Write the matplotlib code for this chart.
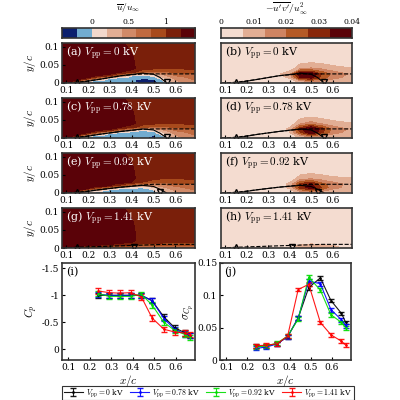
import numpy as np
import matplotlib
matplotlib.use("Agg")
import matplotlib.pyplot as plt
from matplotlib.colors import ListedColormap, BoundaryNorm

plt.rcParams['font.family'] = 'DejaVu Serif'
plt.rcParams['mathtext.fontset'] = 'cm'
plt.rcParams['font.size'] = 7

# ---------------- data ----------------
gx = [0.08, 0.15, 0.2, 0.3, 0.4, 0.45, 0.5, 0.55, 0.6, 0.69]
gy_u = [0, 0.004, 0.008, 0.012, 0.016, 0.02, 0.025, 0.03, 0.04, 0.07, 0.11]
gy_r = [0, 0.005, 0.015, 0.025, 0.04, 0.07, 0.11]

top_rows = [[1.3, 1.3, 1.3, 1.3, 1.25, 1.1, 1.05, 1.0, 1.0, 1.05],
            [1.3, 1.3, 1.3, 1.3, 1.22, 1.1, 1.1, 1.1, 1.1, 1.1],
            [1.3, 1.3, 1.3, 1.3, 1.15, 1.1, 1.1, 1.1, 1.1, 1.1]]

u_a = [[1.3, 0.5, -0.1, -0.1, -0.1, -0.3, -0.3, -0.05, 0.3, 0.5],
       [1.3, 1.0, -0.05, -0.1, -0.15, -0.3, -0.3, 0.0, 0.35, 0.55],
       [1.3, 1.3, 0.3, -0.1, -0.15, -0.3, -0.25, 0.05, 0.4, 0.6],
       [1.3, 1.3, 1.0, -0.05, -0.1, -0.2, -0.15, 0.15, 0.45, 0.65],
       [1.3, 1.3, 1.3, 0.3, -0.05, -0.1, -0.05, 0.25, 0.5, 0.7],
       [1.3, 1.3, 1.3, 1.0, 0.0, -0.05, 0.05, 0.35, 0.6, 0.75],
       [1.3, 1.3, 1.3, 1.25, 0.5, 0.2, 0.3, 0.5, 0.7, 0.8],
       [1.3, 1.3, 1.3, 1.3, 1.1, 0.8, 0.7, 0.75, 0.85, 0.9]] + top_rows
u_c = [[1.3, 0.5, -0.1, -0.1, -0.1, -0.15, -0.25, -0.05, 0.3, 0.5],
       [1.3, 1.0, -0.05, -0.1, -0.15, -0.15, -0.25, 0.0, 0.35, 0.55],
       [1.3, 1.3, 0.3, -0.1, -0.15, -0.15, -0.15, 0.05, 0.4, 0.6],
       [1.3, 1.3, 1.0, -0.05, -0.1, -0.1, -0.1, 0.15, 0.45, 0.65],
       [1.3, 1.3, 1.3, 0.3, -0.05, -0.05, -0.05, 0.25, 0.5, 0.7],
       [1.3, 1.3, 1.3, 1.0, 0.05, 0.0, 0.05, 0.35, 0.6, 0.75],
       [1.3, 1.3, 1.3, 1.25, 0.6, 0.3, 0.35, 0.5, 0.7, 0.8],
       [1.3, 1.3, 1.3, 1.3, 1.1, 0.85, 0.75, 0.75, 0.85, 0.9]] + top_rows
u_e = [[1.3, 0.6, 0.0, -0.05, -0.05, -0.1, -0.1, 0.1, 0.35, 0.5],
       [1.3, 1.1, 0.05, -0.05, -0.1, -0.1, -0.05, 0.15, 0.4, 0.55],
       [1.3, 1.3, 0.6, -0.05, -0.1, -0.1, 0.0, 0.2, 0.45, 0.6],
       [1.3, 1.3, 1.2, 0.1, -0.05, -0.05, 0.05, 0.3, 0.5, 0.65],
       [1.3, 1.3, 1.3, 0.7, 0.1, 0.05, 0.2, 0.4, 0.55, 0.7],
       [1.3, 1.3, 1.3, 1.2, 0.5, 0.3, 0.35, 0.5, 0.65, 0.75],
       [1.3, 1.3, 1.3, 1.3, 0.9, 0.7, 0.6, 0.65, 0.75, 0.8],
       [1.3, 1.3, 1.3, 1.3, 1.2, 1.0, 0.9, 0.85, 0.9, 0.9]] + top_rows
u_g = [[1.3, 0.9, 0.8, 0.6, 0.4, 0.4, 0.4, 0.45, 0.5, 0.55],
       [1.3, 1.2, 1.1, 0.9, 0.7, 0.65, 0.65, 0.65, 0.7, 0.7],
       [1.3, 1.3, 1.25, 1.15, 0.95, 0.9, 0.85, 0.85, 0.85, 0.85],
       [1.3, 1.3, 1.3, 1.25, 1.1, 1.0, 1.0, 0.95, 0.95, 0.95],
       [1.3, 1.3, 1.3, 1.3, 1.2, 1.1, 1.05, 1.05, 1.0, 1.0],
       [1.3, 1.3, 1.3, 1.3, 1.25, 1.1, 1.1, 1.1, 1.05, 1.05],
       [1.3, 1.3, 1.3, 1.3, 1.25, 1.1, 1.1, 1.1, 1.05, 1.05],
       [1.3, 1.3, 1.3, 1.3, 1.25, 1.1, 1.1, 1.1, 1.05, 1.05]] + top_rows

rs_b = [[0, 0, 0, 0, 0, 0.002, 0.004, 0.004, 0.004, 0.003],
        [0, 0, 0, 0, 0.002, 0.010, 0.016, 0.012, 0.009, 0.007],
        [0, 0, 0, 0, 0.008, 0.034, 0.036, 0.024, 0.016, 0.010],
        [0, 0, 0, 0, 0.012, 0.042, 0.040, 0.026, 0.018, 0.012],
        [0, 0, 0, 0, 0.002, 0.012, 0.014, 0.012, 0.009, 0.007],
        [0, 0, 0, 0, 0, 0, 0, 0, 0, 0],
        [0, 0, 0, 0, 0, 0, 0, 0, 0, 0]]
rs_d = [[0, 0, 0, 0, 0, 0.002, 0.004, 0.004, 0.004, 0.003],
        [0, 0, 0, 0, 0.002, 0.010, 0.018, 0.012, 0.009, 0.007],
        [0, 0, 0, 0, 0.006, 0.026, 0.040, 0.028, 0.016, 0.010],
        [0, 0, 0, 0, 0.008, 0.032, 0.044, 0.030, 0.018, 0.012],
        [0, 0, 0, 0, 0.002, 0.012, 0.016, 0.012, 0.009, 0.007],
        [0, 0, 0, 0, 0, 0, 0, 0, 0, 0],
        [0, 0, 0, 0, 0, 0, 0, 0, 0, 0]]
rs_f = [[0, 0, 0, 0, 0, 0.002, 0.004, 0.004, 0.004, 0.003],
        [0, 0, 0, 0, 0.003, 0.014, 0.020, 0.014, 0.009, 0.007],
        [0, 0, 0, 0, 0.008, 0.030, 0.038, 0.026, 0.016, 0.010],
        [0, 0, 0, 0, 0.008, 0.028, 0.034, 0.022, 0.016, 0.011],
        [0, 0, 0, 0, 0.002, 0.010, 0.012, 0.010, 0.008, 0.007],
        [0, 0, 0, 0, 0, 0, 0, 0, 0, 0],
        [0, 0, 0, 0, 0, 0, 0, 0, 0, 0]]
rs_h = [[0, 0, 0, 0, 0.003, 0.006, 0.008, 0.007, 0.006, 0.004],
        [0, 0, 0, 0, 0.005, 0.009, 0.011, 0.009, 0.007, 0.006],
        [0, 0, 0, 0, 0.001, 0.003, 0.004, 0.004, 0.004, 0.003],
        [0, 0, 0, 0, 0, 0, 0, 0, 0, 0],
        [0, 0, 0, 0, 0, 0, 0, 0, 0, 0],
        [0, 0, 0, 0, 0, 0, 0, 0, 0, 0],
        [0, 0, 0, 0, 0, 0, 0, 0, 0, 0]]

# shear-layer (dashed) and dividing streamline (solid)
lx = [0.08, 0.15, 0.25, 0.35, 0.45, 0.5, 0.55, 0.69]
dash_y = {'a': [0, 0.002, 0.01, 0.02, 0.025, 0.025, 0.025, 0.025],
          'c': [0, 0.002, 0.01, 0.018, 0.024, 0.025, 0.025, 0.025],
          'e': [0, 0.002, 0.009, 0.016, 0.022, 0.024, 0.024, 0.024],
          'g': [0, 0.002, 0.004, 0.006, 0.008, 0.009, 0.01, 0.01]}
sx = [0.15, 0.25, 0.35, 0.45, 0.5, 0.53, 0.56]
solid_y = {'a': [0, 0.01, 0.02, 0.027, 0.024, 0.015, 0],
           'c': [0, 0.01, 0.018, 0.025, 0.022, 0.013, 0],
           'e': [0, 0.009, 0.016, 0.021, 0.018, 0.01, 0]}
sep_x = {'a': 0.15, 'c': 0.15, 'e': 0.15, 'g': 0.15}
reat_x = {'a': 0.56, 'c': 0.56, 'e': 0.53, 'g': 0.41}

voltages = ['0', '0.78', '0.92', '1.41']
xp = [0.24, 0.29, 0.34, 0.39, 0.44, 0.49, 0.545, 0.595, 0.645, 0.665]
cp = {'0': [-1.0, -1.0, -1.0, -1.0, -1.0, -0.9, -0.6, -0.4, -0.3, -0.25],
      '0.78': [-1.02, -1.0, -1.0, -1.0, -1.0, -0.9, -0.57, -0.37, -0.28, -0.25],
      '0.92': [-1.03, -0.98, -0.98, -0.98, -1.02, -0.82, -0.5, -0.35, -0.27, -0.22],
      '1.41': [-1.08, -1.05, -1.04, -1.05, -0.97, -0.58, -0.37, -0.32, -0.3, -0.27]}
sig = {'0': [.021, .022, .025, .036, .065, .112, .127, .092, .072, .058],
       '0.78': [.018, .020, .025, .036, .065, .122, .118, .078, .062, .053],
       '0.92': [.020, .022, .026, .037, .063, .128, .108, .070, .058, .050],
       '1.41': [.022, .023, .025, .037, .109, .117, .058, .039, .029, .023]}
colors = ['black', 'blue', '#00dd00', 'red']

# ---------------- colormaps ----------------
u_cols = ['#0b1f6e', '#72acd0', '#f2d8cc', '#e2ae94', '#d18a68', '#c06a40',
          '#a84a1c', '#7a1f0a', '#5a0208']
u_lev = np.linspace(-0.4, 1.4, 10)
u_cmap = ListedColormap(u_cols)
u_norm = BoundaryNorm(u_lev, u_cmap.N)
r_cols = ['#f4dcd0', '#e2ae94', '#cf8462', '#b55a26', '#88270a', '#5a0208']
r_lev = np.linspace(0, 0.04, 7)
r_cmap = ListedColormap(r_cols)
r_norm = BoundaryNorm(r_lev, r_cmap.N)

fig = plt.figure(figsize=(4, 4), dpi=100)

def frame(ax):
    for s in ax.spines.values():
        s.set_linewidth(1.2)
        s.set_color('#333333')
    ax.tick_params(direction='in', length=2, pad=2, labelsize=6.5)

# colorbars
cb1 = fig.add_axes([0.155, 0.905, 0.3325, 0.024])
cb1.imshow([np.arange(9)], cmap=u_cmap, aspect='auto',
           extent=[-0.4, 1.4, 0, 1])
cb1.set_yticks([])
cb1.xaxis.tick_top()
cb1.set_xticks([0, 0.5, 1])
cb1.set_xticklabels(['0', '0.5', '1'])
frame(cb1)
cb1.tick_params(length=0, labelsize=5.5, pad=2)
fig.text(0.32, 0.98, r'$\overline{u}/u_\infty$', fontsize=7, ha='center', va='center')
cb2 = fig.add_axes([0.5525, 0.905, 0.3275, 0.024])
cb2.imshow([np.arange(6)], cmap=r_cmap, aspect='auto',
           extent=[0, 0.04, 0, 1])
cb2.set_yticks([])
cb2.xaxis.tick_top()
cb2.set_xticks([0, 0.01, 0.02, 0.03, 0.04])
cb2.set_xticklabels(['0', '0.01', '0.02', '0.03', '0.04'])
frame(cb2)
cb2.tick_params(length=0, labelsize=5.5, pad=2)
fig.text(0.715, 0.978, r"$-\overline{u'v'}/u_\infty^2$", fontsize=7, ha='center', va='center')

u_fields = [u_a, u_c, u_e, u_g]
r_fields = [rs_b, rs_d, rs_f, rs_h]
ukeys = ['a', 'c', 'e', 'g']
rkeys = ['b', 'd', 'f', 'h']
tops = [43, 98, 153, 208]
XU, YU = np.meshgrid(gx, gy_u)
XR, YR = np.meshgrid(gx, gy_r)

for i in range(4):
    b = 1 - (tops[i] + 40) / 400
    for j in range(2):
        if j == 0:
            ax = fig.add_axes([0.155, b, 0.3325, 0.1])
            ax.contourf(XU, YU, np.array(u_fields[i]), levels=u_lev, cmap=u_cmap,
                        norm=u_norm, extend='both')
        else:
            ax = fig.add_axes([0.5525, b, 0.3275, 0.1])
            ax.contourf(XR, YR, np.array(r_fields[i]), levels=r_lev, cmap=r_cmap,
                        norm=r_norm, extend='both')
        k = ukeys[i]
        ax.plot(lx, dash_y[k], 'k--', lw=0.8)
        if k in solid_y:
            ax.plot(sx, solid_y[k], 'k-', lw=0.8)
        ax.plot(sep_x[k], 0.002, marker='^', mfc='none', mec='k', ms=4)
        ax.plot(reat_x[k], 0.002, marker='v', mfc='none', mec='k', ms=4)
        ax.set_xlim(0.08, 0.69)
        ax.set_ylim(0, 0.11)
        ax.set_xticks([0.1, 0.2, 0.3, 0.4, 0.5, 0.6])
        ax.set_xticklabels(['0.1', '0.2', '0.3', '0.4', '0.5', '0.6'])
        if j == 0:
            ax.set_yticks([0, 0.05, 0.1])
            ax.set_yticklabels(['0', '0.05', '0.1'])
            ax.set_ylabel(r'$y/c$', fontsize=8, labelpad=1)
            lab = ukeys[i]
            tc = 'white'
        else:
            ax.set_yticks([])
            lab = rkeys[i]
            tc = 'black'
        ax.text(0.03, 0.95, '(%s) $V_{\\mathrm{pp}} = %s$ kV' % (lab, voltages[i]),
                transform=ax.transAxes, color=tc, fontsize=8, va='top')
        frame(ax)

# Cp and its standard deviation
ax1 = fig.add_axes([0.155, 0.1, 0.3325, 0.2425])
ax2 = fig.add_axes([0.55, 0.1, 0.3275, 0.2425])
handles = []
for v, c in zip(voltages, colors):
    h = ax1.errorbar(xp, cp[v], yerr=0.05, color=c, lw=0.8, ms=2, marker='.',
                     capsize=2.5, elinewidth=0.8, alpha=0.9)
    ax2.errorbar(xp, sig[v], yerr=0.003, color=c, lw=0.8, ms=2, marker='.',
                 capsize=2.5, elinewidth=0.8, alpha=0.9)
    handles.append(h)
ax1.set_xlim(0.07, 0.69)
ax1.set_ylim(0.2, -1.6)
ax1.set_yticks([-1.5, -1, -0.5, 0])
ax1.set_yticklabels(['-1.5', '-1', '-0.5', '0'])
ax1.set_ylabel(r'$C_p$', fontsize=8, labelpad=1)
ax1.text(0.03, 0.96, '(i)', transform=ax1.transAxes, fontsize=8, va='top')
ax2.set_xlim(0.07, 0.69)
ax2.set_ylim(0, 0.15)
ax2.set_yticks([0, 0.05, 0.1, 0.15])
ax2.set_yticklabels(['0', '0.05', '0.1', '0.15'])
ax2.set_ylabel(r'$\sigma_{C_p}$', fontsize=8, labelpad=1)
ax2.text(0.03, 0.96, '(j)', transform=ax2.transAxes, fontsize=8, va='top')
for ax in (ax1, ax2):
    ax.set_xticks([0.1, 0.2, 0.3, 0.4, 0.5, 0.6])
    ax.set_xticklabels(['0.1', '0.2', '0.3', '0.4', '0.5', '0.6'])
    ax.set_xlabel(r'$x/c$', fontsize=8, labelpad=1)
    frame(ax)

leg = fig.legend(handles, [r'$V_{\mathrm{pp}} = %s$ kV' % v for v in voltages],
                 loc='center', bbox_to_anchor=(0.52, 0.0175), ncol=4,
                 fontsize=5.5, frameon=True, fancybox=False, edgecolor='black',
                 handlelength=2.5, handletextpad=0.4, columnspacing=0.8,
                 borderpad=0.2)
leg.get_frame().set_linewidth(0.8)

fig.savefig('out.png', dpi=100)
